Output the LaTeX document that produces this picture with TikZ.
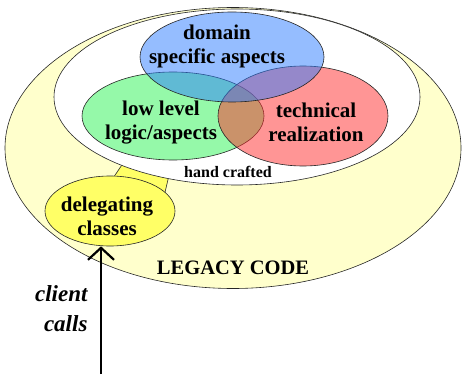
\documentclass[tikz,border=0pt]{standalone}
\usepackage{fontspec}
\setmainfont{Liberation Serif}
\usetikzlibrary{shapes.geometric, arrows.meta, positioning}
\definecolor{legacyyellow}{RGB}{255, 255, 204}
\definecolor{delegyellow}{RGB}{255, 255, 102}
\definecolor{domainblue}{RGB}{45, 125, 255}
\definecolor{lowgreen}{RGB}{45, 245, 85}
\definecolor{techred}{RGB}{255, 45, 45}

\begin{document}
\begin{tikzpicture}[x=1pt, y=-1pt,
    blob/.style={ellipse, draw=black!85, line width=0.6pt, inner sep=0pt},
    venn/.style={blob, fill opacity=0.5, text opacity=1},
    venntext/.style={font=\bfseries\fontsize{21}{24}\selectfont, align=center}]
    \useasboundingbox (0,0) rectangle (462,374);

    % legacy code and the hand crafted core
    \node[blob, fill=legacyyellow, minimum width=456, minimum height=281] (legacy) at (233,148) {};
    \filldraw[fill=delegyellow, draw=black!85, line width=0.6pt]
        (105,190) -- (132,150) -- (175,150) -- (162,205) -- cycle;
    \node[blob, fill=white, minimum width=366, minimum height=176] (crafted) at (237,97) {};

    \node[venn, fill=lowgreen, minimum width=182, minimum height=88] (lowlevel) at (173,116) {};
    \node[venn, fill=techred, minimum width=170, minimum height=100] (technical) at (303,116) {};
    \node[venn, fill=domainblue, minimum width=184, minimum height=90] (domain) at (232,57) {};

    \node[venntext] (domaintext) at (217,46) {domain\\specific aspects};
    \node[venntext] (lowtext) at (161,123) {low level\\logic/aspects};
    \node[venntext] (techtext) at (316,122) {technical\\realization};
    \node[font=\bfseries\fontsize{16}{18}\selectfont] (craftedtext) at (228,172) {hand crafted};

    \node[blob, fill=delegyellow, minimum width=130, minimum height=70] (deleg) at (110,211) {};
    \node[venntext] (delegtext) at (107,216) {delegating\\classes};

    \node[font=\bfseries\fontsize{20.5}{24}\selectfont] (legacytext) at (233,268) {LEGACY CODE};
    \node[font=\bfseries\itshape\fontsize{23}{30}\selectfont, align=right, anchor=east] (client) at (91,309) {client\\calls};

    \coordinate (callsrc) at (101,374);
    \draw[-{Straight Barb[length=12pt, width=26pt]}, line width=2.2pt] (callsrc) -- (callsrc |- deleg.south);
\end{tikzpicture}
\end{document}
